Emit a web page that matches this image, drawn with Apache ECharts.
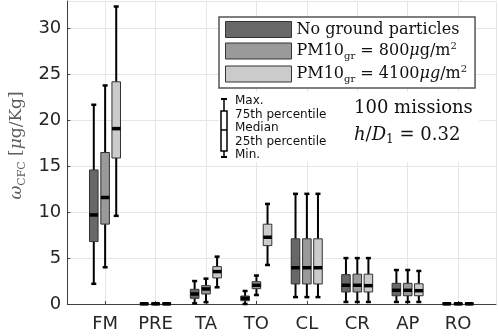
<!DOCTYPE html>
<html>
<head>
<meta charset="utf-8">
<script src="https://cdn.jsdelivr.net/npm/echarts@6/dist/echarts.min.js"></script>
<style>
  html, body { margin: 0; padding: 0; background: #fff; }
  #chart { width: 498px; height: 336px; }
</style>
</head>
<body>
<div id="chart"></div>
<script>
// categories on the x axis
var categories = ['FM', 'PRE', 'TA', 'TO', 'CL', 'CR', 'AP', 'RO'];
var seriesNames = ['No ground particles', 'PM10gr = 800', 'PM10gr = 4100'];
var yTicks = [0, 5, 10, 15, 20, 25, 30];

// [min, 25th, median, 75th, max] per category
var noGround = [
  [2.2, 6.8, 9.7, 14.6, 21.7],
  [0, 0, 0.02, 0.05, 0.08],
  [0.07, 0.62, 1.09, 1.6, 2.5],
  [0, 0.36, 0.62, 0.87, 1.42],
  [0.75, 2.18, 3.95, 7.1, 12.0],
  [0.22, 1.31, 2.04, 3.2, 5.0],
  [0.22, 0.9, 1.49, 2.25, 3.7],
  [0, 0, 0.02, 0.05, 0.08]
];
var pm800 = [
  [4.0, 8.7, 11.6, 16.5, 23.8],
  [0, 0, 0.02, 0.05, 0.08],
  [0.2, 1.09, 1.64, 2.0, 2.76],
  [0.98, 1.67, 2.04, 2.43, 3.1],
  [0.75, 2.18, 3.95, 7.1, 12.0],
  [0.22, 1.31, 2.04, 3.25, 5.0],
  [0.22, 0.9, 1.49, 2.25, 3.7],
  [0, 0, 0.02, 0.05, 0.08]
];
var pm4100 = [
  [9.6, 15.9, 19.1, 24.2, 32.4],
  [0, 0, 0.02, 0.05, 0.08],
  [1.82, 2.84, 3.53, 4.07, 5.16],
  [4.25, 6.36, 7.27, 8.69, 10.9],
  [0.75, 2.18, 3.95, 7.1, 12.0],
  [0.22, 1.31, 2.0, 3.25, 5.0],
  [0.22, 0.9, 1.45, 2.2, 3.6],
  [0, 0, 0.02, 0.05, 0.08]
];

var allValues = [noGround, pm800, pm4100];
var colors = ['#686868', '#9a9a9a', '#cbcbcb'];
var offsets = [-0.225, 0, 0.22];
var BOX_W = 0.17;

var legendText = {
  'No ground particles': '{m|No ground particles}',
  'PM10gr = 800': '{m|PM10}{sub|gr}{m| = 800}{i|μ}{m|g/m}{sup|2}',
  'PM10gr = 4100': '{m|PM10}{sub|gr}{m| = 4100}{i|μg}{m|/m}{sup|2}'
};

function renderBox(params, api) {
  var x = api.value(0);
  var top = api.coord([x, api.value(5)]);
  var q3 = api.coord([x, api.value(4)]);
  var med = api.coord([x, api.value(3)]);
  var q1 = api.coord([x, api.value(2)]);
  var bot = api.coord([x, api.value(1)]);
  var bw = api.size([BOX_W, 0])[0];
  var cw = 5;
  var cx = top[0];
  return {
    type: 'group',
    children: [
      { type: 'line', shape: { x1: cx, y1: top[1], x2: cx, y2: q3[1] }, style: { stroke: '#000', lineWidth: 2 } },
      { type: 'line', shape: { x1: cx, y1: q1[1], x2: cx, y2: bot[1] }, style: { stroke: '#000', lineWidth: 2 } },
      { type: 'line', shape: { x1: cx - cw / 2, y1: top[1], x2: cx + cw / 2, y2: top[1] }, style: { stroke: '#000', lineWidth: 2.5 } },
      { type: 'line', shape: { x1: cx - cw / 2, y1: bot[1], x2: cx + cw / 2, y2: bot[1] }, style: { stroke: '#000', lineWidth: 2.5 } },
      { type: 'rect', shape: { x: cx - bw / 2, y: q3[1], width: bw, height: q1[1] - q3[1] },
        style: { fill: api.visual('color'), stroke: '#333', lineWidth: 1 } },
      { type: 'line', shape: { x1: cx - bw / 2, y1: med[1], x2: cx + bw / 2, y2: med[1] }, style: { stroke: '#000', lineWidth: 3.5 } }
    ]
  };
}

var series = allValues.map(function (vals, s) {
  return {
    name: seriesNames[s],
    type: 'custom',
    renderItem: renderBox,
    itemStyle: { color: colors[s] },
    encode: { x: 0, y: [1, 2, 3, 4, 5] },
    data: vals.map(function (v, i) { return [i + 1 + offsets[s]].concat(v); })
  };
});

var keyFont = '12px "DejaVu Sans"';

var chart = echarts.init(document.getElementById('chart'));
var option = {
  animation: false,
  grid: { left: 63, right: 2, top: 1, bottom: 32 },
  legend: {
    data: seriesNames,
    orient: 'vertical',
    left: 219,
    top: 17,
    padding: [4, 8, 4, 6],
    itemWidth: 66,
    itemHeight: 16,
    itemGap: 3,
    icon: 'rect',
    backgroundColor: '#fff',
    borderColor: '#555',
    borderWidth: 1.5,
    borderRadius: 0,
    itemStyle: { borderColor: '#333', borderWidth: 1 },
    formatter: function (name) { return legendText[name]; },
    textStyle: {
      color: '#111',
      rich: {
        m: { fontFamily: 'DejaVu Serif', fontSize: 16, lineHeight: 20 },
        i: { fontFamily: 'DejaVu Serif', fontStyle: 'italic', fontSize: 16, lineHeight: 20 },
        sub: { fontFamily: 'DejaVu Serif', fontSize: 10, lineHeight: 10, verticalAlign: 'bottom' },
        sup: { fontFamily: 'DejaVu Serif', fontSize: 10, lineHeight: 10, verticalAlign: 'top' }
      }
    }
  },
  xAxis: {
    type: 'value',
    min: 0.25,
    max: 8.75,
    minInterval: 1,
    maxInterval: 1,
    axisLine: { lineStyle: { color: '#404040', width: 1 } },
    axisTick: { inside: true, length: 3, lineStyle: { color: '#404040' } },
    axisLabel: {
      fontFamily: 'DejaVu Sans', fontSize: 18, color: '#262626', margin: 11,
      showMinLabel: false, showMaxLabel: false,
      formatter: function (v) { return Number.isInteger(v) ? categories[v - 1] : ''; }
    },
    splitLine: { show: true, lineStyle: { color: '#e6e6e6', width: 1 } }
  },
  yAxis: {
    type: 'value',
    min: yTicks[0],
    max: 33,
    interval: 5,
    name: '{w|ω}{sub|CFC}{t| [}{i|μ}{t|g/Kg]}',
    nameLocation: 'middle',
    nameRotate: 90,
    nameGap: 39,
    nameTextStyle: {
      color: '#5e5e5e',
      padding: [0, 0, 0, 14],
      rich: {
        w: { fontFamily: 'DejaVu Serif', fontStyle: 'italic', fontSize: 17, lineHeight: 22 },
        i: { fontFamily: 'DejaVu Serif', fontStyle: 'italic', fontSize: 17, lineHeight: 22 },
        t: { fontFamily: 'DejaVu Serif', fontSize: 17, lineHeight: 22 },
        sub: { fontFamily: 'DejaVu Serif', fontSize: 11, lineHeight: 12, verticalAlign: 'bottom' }
      }
    },
    axisLine: { show: true, lineStyle: { color: '#404040', width: 1 } },
    axisTick: { show: true, inside: true, length: 3, lineStyle: { color: '#404040' } },
    axisLabel: {
      fontFamily: 'DejaVu Sans', fontSize: 18, color: '#262626', margin: 6,
      showMaxLabel: false,
      formatter: function (v) { return yTicks.indexOf(v) >= 0 ? String(v) : ''; }
    },
    splitLine: { show: true, lineStyle: { color: '#e6e6e6', width: 1 } }
  },
  graphic: [
    // white panel behind the key and the annotation
    { type: 'rect', z: 20, shape: { x: 219, y: 92, width: 260, height: 70 }, style: { fill: '#fff' } },
    // box key
    { type: 'line', z: 21, shape: { x1: 221, y1: 99, x2: 227, y2: 99 }, style: { stroke: '#000', lineWidth: 2 } },
    { type: 'line', z: 21, shape: { x1: 224, y1: 99, x2: 224, y2: 111 }, style: { stroke: '#000', lineWidth: 1.5 } },
    { type: 'rect', z: 21, shape: { x: 221, y: 111, width: 6, height: 40 }, style: { fill: '#fff', stroke: '#000', lineWidth: 1.5 } },
    { type: 'line', z: 22, shape: { x1: 221, y1: 130, x2: 227, y2: 130 }, style: { stroke: '#000', lineWidth: 1.5 } },
    { type: 'line', z: 21, shape: { x1: 224, y1: 151, x2: 224, y2: 157 }, style: { stroke: '#000', lineWidth: 1.5 } },
    { type: 'line', z: 21, shape: { x1: 221, y1: 157, x2: 227, y2: 157 }, style: { stroke: '#000', lineWidth: 2 } },
    { type: 'text', z: 21, x: 235, y: 101, style: { text: 'Max.', font: keyFont, fill: '#111', verticalAlign: 'middle' } },
    { type: 'text', z: 21, x: 235, y: 114.5, style: { text: '75th percentile', font: keyFont, fill: '#111', verticalAlign: 'middle' } },
    { type: 'text', z: 21, x: 235, y: 128, style: { text: 'Median', font: keyFont, fill: '#111', verticalAlign: 'middle' } },
    { type: 'text', z: 21, x: 235, y: 141.5, style: { text: '25th percentile', font: keyFont, fill: '#111', verticalAlign: 'middle' } },
    { type: 'text', z: 21, x: 235, y: 155, style: { text: 'Min.', font: keyFont, fill: '#111', verticalAlign: 'middle' } },
    // annotation
    { type: 'text', z: 21, x: 354, y: 108, style: { text: '100 missions', font: '18px "DejaVu Serif"', fill: '#111', verticalAlign: 'middle' } },
    {
      type: 'text', z: 21, x: 354, y: 135,
      style: {
        text: '{i|h}{t|/}{i|D}{sub|1}{t| = 0.32}',
        fill: '#111',
        verticalAlign: 'middle',
        rich: {
          i: { fontFamily: 'DejaVu Serif', fontStyle: 'italic', fontSize: 18, lineHeight: 22 },
          t: { fontFamily: 'DejaVu Serif', fontSize: 18, lineHeight: 22 },
          sub: { fontFamily: 'DejaVu Serif', fontSize: 12, lineHeight: 12, verticalAlign: 'bottom' }
        }
      }
    }
  ],
  series: series
};
chart.setOption(option);
</script>
</body>
</html>
